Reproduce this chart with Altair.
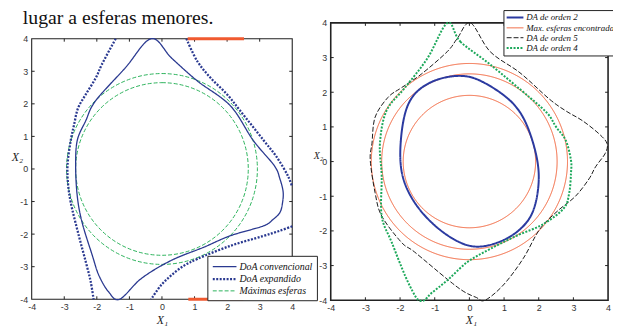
import altair as alt
import pandas as pd

# ---------------- data ----------------
caption = "lugar a esferas menores."
lim = [-4, 4]
axis_ticks = [-4, -3, -2, -1, 0, 1, 2, 3, 4]

# left panel
legend_L = ["DoA convencional", "DoA expandido", "Máximas esferas"]
conv_x = [-0.33, 0.3, 1.09, 2.1, 2.8, 3.45, 3.62, 3.72, 3.7, 3.62, 3.41, 3.11, 2.1, 1.29, 0.28,
          -0.63, -1.3, -1.64, -1.94, -2.14, -2.45, -2.6, -2.65, -2.6, -2.34, -2.04, -1.13]
conv_y = [4.0, 3.4, 2.7, 1.94, 0.88, 0.1, -0.3, -0.7, -1.05, -1.34, -1.55, -1.75, -2.05, -2.4, -2.81,
          -3.36, -4.0, -3.77, -3.26, -2.65, -1.65, -0.84, 0.1, 0.88, 1.48, 2.09, 3.1]
expA_x = [-1.42, -1.85, -2.03, -2.34, -2.58, -2.7, -2.8, -2.9, -2.88, -2.8, -2.55, -2.34, -2.19, -2.1]
expA_y = [4.0, 3.2, 2.8, 2.29, 1.86, 1.35, 0.88, 0.1, -0.5, -1.03, -2.06, -2.85, -3.45, -4.0]
expB_x = [0.75, 1.09, 1.49, 2.0, 2.4, 3.12, 3.52, 3.88, 4.0]
expB_y = [4.0, 3.3, 2.8, 2.29, 1.79, 0.88, 0.37, -0.24, -0.55]
expC_x = [4.0, 3.61, 3.1, 2.1, 1.09, 0.69, 0.28, -0.03, -0.33]
expC_y = [-1.76, -1.9, -2.06, -2.36, -2.76, -2.96, -3.27, -3.57, -4.0]
esf_L_r = [2.93, 2.65]
red_x = [0.79, 0.81]
red_x2 = [2.52, 2.5]
red_y = [4, -4]

# right panel
legend_R = ["DA de orden 2", "Max. esferas encontradas", "DA de orden 5", "DA de orden 4"]
ord2_x = [-0.1, 0.41, 0.98, 1.5, 1.84, 2.03, 1.98, 1.88, 1.7, 1.17, 0.31, -0.26, -0.92, -1.5, -1.86,
          -2.0, -2.0, -1.88, -1.58, -0.92]
ord2_y = [2.52, 2.3, 1.95, 1.47, 0.61, -0.24, -0.9, -1.35, -1.75, -2.23, -2.52, -2.38, -1.95, -1.35, -0.72,
          -0.15, 0.53, 1.47, 2.04, 2.42]
ord5_x = [0.03, 0.6, 1.46, 2.31, 2.8, 3.26, 3.74, 3.97, 3.92, 3.64, 3.45, 3.06, 2.55, 2.03, 1.55, 0.98,
          0.45, 0.2, -0.16, -0.63, -1.58, -1.96, -2.53, -2.72, -2.86, -2.81, -2.72, -2.35, -1.96, -1.39,
          -0.64, -0.35]
ord5_y = [4.0, 3.17, 2.56, 1.8, 1.45, 1.18, 0.8, 0.52, 0.24, -0.15, -0.5, -1.0, -1.42, -1.95, -2.8, -3.56,
          -4.0, -3.92, -3.75, -3.4, -2.61, -2.33, -1.57, -0.9, 0.04, 0.53, 1.28, 1.85, 2.13, 2.52,
          3.17, 3.55]
ord4_x = [-0.63, -0.26, 0.6, 1.74, 2.26, 2.5, 2.78, 2.93, 2.93, 2.88, 2.72, 2.12, 1.36, 0.6, -0.06,
          -0.63, -1.1, -1.3, -1.45, -1.58, -1.86, -2.24, -2.53, -2.53, -2.58, -2.39, -1.86, -1.21]
ord4_y = [4.0, 3.46, 2.8, 1.85, 1.38, 1.0, 0.61, 0.04, -0.34, -0.9, -1.35, -1.81, -2.14, -2.52, -2.9,
          -3.42, -3.8, -4.0, -4.0, -3.85, -3.28, -2.33, -1.57, -0.43, 0.53, 1.47, 2.13, 2.98]
esf_R_r = [2.83, 2.53, 1.91]


# ---------------- tables ----------------
def curve(xs, ys, serie, seg=0):
    return pd.DataFrame({"x": xs, "y": ys, "i": range(len(xs)), "serie": serie, "seg": seg})


def tick_table(length):
    rows = []
    lo, hi = lim
    for t in axis_ticks[1:-1]:
        rows.append(dict(x=t, x2=t, y=lo, y2=lo + length))
        rows.append(dict(x=t, x2=t, y=hi, y2=hi - length))
        rows.append(dict(x=lo, x2=lo + length, y=t, y2=t))
        rows.append(dict(x=hi, x2=hi - length, y=t, y2=t))
    return pd.DataFrame(rows)


frame_df = pd.DataFrame({"x": [lim[0]], "x2": [lim[1]], "y": [lim[0]], "y2": [lim[1]]})

conv_df = curve(conv_x, conv_y, legend_L[0])
exp_df = pd.concat([curve(expA_x, expA_y, legend_L[1], 0),
                    curve(expB_x, expB_y, legend_L[1], 1),
                    curve(expC_x, expC_y, legend_L[1], 2)])
circL_df = pd.DataFrame({"x": 0.0, "y": 0.0, "r": esf_L_r, "serie": legend_L[2]})
red_df = pd.DataFrame({"x": red_x, "x2": red_x2, "y": red_y})
cap_df = pd.DataFrame({"t": [caption]})

ord2_df = curve(ord2_x, ord2_y, legend_R[0])
ord5_df = curve(ord5_x, ord5_y, legend_R[2])
ord4_df = curve(ord4_x, ord4_y, legend_R[3])
circR_df = pd.DataFrame({"x": 0.0, "y": 0.0, "r": esf_R_r, "serie": legend_R[1]})

# ---------------- styles ----------------
NAVY = "#2a3990"
GREEN_L = "#2bb25a"
RED = "#f05a30"
BLUE_R = "#2b3aa0"
BLACK = "#1a1a1a"
GREEN_R = "#1ca85a"

tick_font = "Liberation Sans"
serif = "Liberation Serif"
LINE_SYMBOL = "M-1,0H3"   # legend sample: a horizontal stroke


def axis(orient, offset, title, tx, ty, tsize, lpad):
    return alt.Axis(orient=orient, offset=offset, values=axis_ticks, ticks=False, domain=False,
                    grid=False, labelFont=tick_font, labelFontSize=9, labelColor="#333",
                    labelPadding=lpad, labelFlush=False, labelOverlap=False,
                    labelExpr="'' + datum.value",
                    title=title, titleFont=serif, titleFontStyle="italic", titleFontWeight="normal",
                    titleFontSize=tsize, titleColor="#222", titleAngle=0, titleX=tx, titleY=ty,
                    titleAlign="center", titleBaseline="middle")


def panel(xr, yr, px_unit, ax_x, ax_y, leg, dom, colors, dashes, widths, frame_w, curves,
          circ_df, circ_dash, circ_w):
    sx = alt.Scale(domain=lim, range=xr, nice=False, zero=False)
    sy = alt.Scale(domain=lim, range=yr, nice=False, zero=False)
    sr = alt.Scale(type="linear", domain=[0, lim[1]], range=[0, lim[1] * px_unit], zero=True)
    X = alt.X("x:Q", scale=sx, axis=ax_x)
    Y = alt.Y("y:Q", scale=sy, axis=ax_y)
    col = alt.Color("serie:N", scale=alt.Scale(domain=dom, range=colors), legend=leg)
    dash = alt.StrokeDash("serie:N", scale=alt.Scale(type="ordinal", domain=dom, range=dashes), legend=leg)
    wid = alt.StrokeWidth("serie:N", scale=alt.Scale(type="ordinal", domain=dom, range=widths), legend=leg)

    layers = [
        alt.Chart(frame_df).mark_rect(filled=False, stroke="#222", strokeWidth=frame_w).encode(
            x=X, x2="x2:Q", y=Y, y2="y2:Q"),
        alt.Chart(tick_table(3.0 / px_unit)).mark_rule(color="#222", strokeWidth=1).encode(
            x=X, x2="x2:Q", y=Y, y2="y2:Q"),
        alt.Chart(circ_df).mark_arc(filled=False, theta=0, theta2=6.2832, strokeDash=circ_dash,
                                    strokeWidth=circ_w).encode(
            x=X, y=Y, radius=alt.Radius("r:Q", scale=sr, stack=False), color=col,
            strokeDash=dash, strokeWidth=wid),
    ]
    for df, interp in curves:
        layers.append(alt.Chart(df).mark_line(interpolate=interp).encode(
            x=X, y=Y, order="i:Q", detail="seg:N", color=col, strokeDash=dash, strokeWidth=wid))
    return layers, X, Y


legL = alt.Legend(orient="none", legendX=202, legendY=249, title=None, symbolType=LINE_SYMBOL,
                  symbolSize=144, labelFont=serif, labelFontStyle="italic", labelFontSize=10,
                  labelColor="#111", strokeColor="#222", fillColor="white", padding=4,
                  rowPadding=0, labelOffset=13.5, symbolFillColor="transparent")
legR = alt.Legend(orient="none", legendX=502, legendY=0, title=None, symbolType=LINE_SYMBOL,
                  symbolSize=72, labelFont=serif, labelFontStyle="italic", labelFontSize=9,
                  labelColor="#111", strokeColor="#222", fillColor="white", padding=2,
                  rowPadding=0, labelOffset=10, labelLimit=200, symbolFillColor="transparent")

layL, XL, YL = panel(
    [24, 288], [293, 29], 33.0,
    axis("bottom", -1, "X₁", 156, 21, 12, 3), axis("left", -24, "X₂", -15, 148, 12, 4),
    legL, legend_L, [NAVY, NAVY, GREEN_L], [[1, 0], [2, 1.5], [4, 2]], [1.3, 2.3, 1.0], 1.1,
    [(conv_df, "cardinal-closed"), (exp_df, "catmull-rom")], circL_df, [4, 2], 1.0)

layL.append(alt.Chart(red_df).mark_rule(color=RED, strokeWidth=3).encode(x=XL, x2="x2:Q", y=YL))
layL.append(alt.Chart(cap_df).mark_text(align="left", baseline="alphabetic", font=serif,
                                        fontSize=20, color="#111").encode(
    x=alt.value(15), y=alt.value(14), text="t:N"))

layR, XR, YR = panel(
    [327, 608], [294, 13], 35.125,
    axis("bottom", 0, "X₁", 469, 20, 12, 3), axis("left", -327, "X₂", -13, 147, 10, 4),
    legR, legend_R, [BLUE_R, RED, BLACK, GREEN_R], [[1, 0], [1, 0], [5, 2], [2, 1.5]],
    [2.0, 1.0, 1.0, 2.0], 1.6,
    [(ord2_df, "basis-closed"), (ord5_df, "cardinal-closed"), (ord4_df, "cardinal-closed")],
    circR_df, [1, 0], 1.0)

left = alt.layer(*layL)
right = alt.layer(*layR)

chart = alt.layer(left, right).resolve_scale(
    x="independent", y="independent", color="independent", strokeDash="independent",
    strokeWidth="independent", radius="independent"
).properties(
    width=608, height=294, autosize="none",
    padding={"left": 0, "top": 0, "right": 5, "bottom": 24}
).configure_view(strokeWidth=0)

chart.save("out.html", embed_options={"renderer": "svg", "actions": False})
